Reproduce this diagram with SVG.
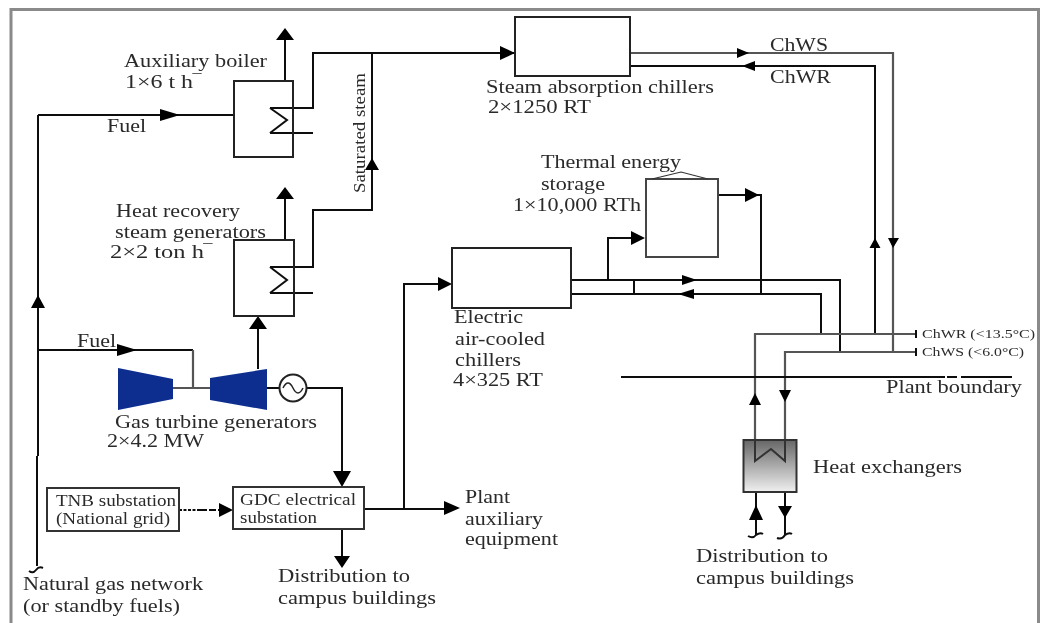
<svg xmlns="http://www.w3.org/2000/svg" width="1041" height="623" viewBox="0 0 1041 623">
<defs>
<style>
text{font-family:"Liberation Serif","Times New Roman",serif;font-size:19px;fill:#2a2a2a}
.s{font-size:16px}
.t{font-size:12.500px}
.l{fill:none;stroke:#111;stroke-width:2}
.g{fill:none;stroke:#555;stroke-width:2.200}
.b{fill:#fff;stroke:#222;stroke-width:2}
.o{fill:none;stroke:#222;stroke-width:2}
.a{fill:#000;stroke:none}
.q{fill:#0b2f8f;stroke:none}
</style>
<linearGradient id="hx" x1="0" y1="0" x2="0" y2="1"><stop offset="0" stop-color="#666"/><stop offset="1" stop-color="#f0f0f0"/></linearGradient>
<filter id="blur" x="0" y="0" width="1041" height="623" filterUnits="userSpaceOnUse"><feGaussianBlur stdDeviation="0.45"/></filter>
</defs>
<rect width="1041" height="623" fill="#fff"/>
<g filter="url(#blur)">
<path id="frame" d="M11 623V9.500H1038.500V623" fill="none" stroke="#8a8a8a" stroke-width="3"/>
<g id="connectors">
<path class="l" d="M38 115H234M38 115V350M38 350V456M37 456V566"/>
<path class="l" d="M38 350H193"/><path class="g" d="M193 350V388M173 388H210"/>
<path class="l" d="M285 81V36M285 240V194M258 369V322"/>
<path class="l" d="M270 108H313V53H515M270 133H313M372 53V210H313V267H270M270 293H313M270 108L287 120L270 133M270 267L287 280L270 293"/>
<path class="l" d="M267 388H280M307 388H342V475M342 529V560M364 509H450M404 509V284H445"/>
<path class="l" stroke-dasharray="3 1.500" d="M179 510H200"/><path class="l" stroke-dasharray="7 2" d="M200 510H225"/>
<path class="g" d="M630 53H893V352"/>
<path class="l" d="M630 66H875V334"/>
<path class="l" d="M718 195H761V294M608 280V238H640"/>
<path class="l" d="M571 280H840V352M571 294H821V334M634 280V294"/>
<path class="g" d="M755 440V334H915M785 440V352H915"/>
<path class="l" d="M916 330V338M916 348V356"/>
<path class="l" d="M621 377H945M947 377H957M961 377H1012"/>
<path class="l" d="M756 492V535M785 492V535"/>
<path class="l" stroke-width="1.500" d="M29 571Q33 574 36 570Q39 566 43 568M748 536Q753 539 756 535Q760 532 763 534M777 538Q782 540 785 535Q789 532 792 534"/>
<path class="a" d="M285 28l9 12h-18zM285 187l9 12h-18zM258 316l9 13h-18zM38 295l7 13h-14zM372 158l7 12h-14zM875 238l5.500 10h-11zM755 393l6 12h-12z"/>
<path class="a" d="M180 115L160 109V121zM137 350L117 344V356zM515 53L500 46V60zM749 53L737 48V58zM742 66L755 61V71zM893 248L888 238H899zM785 402L779 390H791zM342 487L333 471H351zM342 568L334 556H350zM233 510L219 503V517zM460 508L444 501V515zM452 284L438 277V291zM645 238L631 231V245zM759 195L745 188V202zM697 280L682 275V285zM678 294L694 289V299zM756 505L749 520H763zM785 518L778 506H792z"/>
</g>
<g id="aux-boiler"><rect class="o" x="234" y="81" width="59" height="76"/></g>
<g id="hrsg"><rect class="o" x="234" y="240" width="60" height="76"/></g>
<g id="steam-chillers"><rect class="b" x="515" y="17" width="115" height="59"/></g>
<g id="tes"><rect class="b" x="646" y="179" width="72" height="78" style="stroke:#444"/><path d="M652 179L681 172L708 179" fill="none" stroke="#333" stroke-width="1.200"/></g>
<g id="electric-chillers"><rect class="b" x="452" y="248" width="119" height="60"/></g>
<g id="gas-turbine-1"><path class="q" d="M118 368L173 379V399L118 410z"/></g>
<g id="gas-turbine-2"><path class="q" d="M210 378L267 369V410L210 400z"/></g>
<g id="generator"><circle cx="293" cy="388" r="13.500" fill="#fff" stroke="#222" stroke-width="2"/><path d="M283 388Q288 378 293 388T303 388" fill="none" stroke="#222" stroke-width="1.500"/></g>
<g id="tnb"><rect x="47" y="488" width="132" height="43" fill="#fff" stroke="#333" stroke-width="2"/><text class="s" x="56" y="506" textLength="120" lengthAdjust="spacingAndGlyphs">TNB substation</text><text class="s" x="56" y="524" textLength="114" lengthAdjust="spacingAndGlyphs">(National grid)</text></g>
<g id="gdc"><rect x="233" y="487" width="131" height="42" fill="#fff" stroke="#333" stroke-width="2"/><text class="s" x="240" y="505" textLength="116" lengthAdjust="spacingAndGlyphs">GDC electrical</text><text class="s" x="240" y="523" textLength="77" lengthAdjust="spacingAndGlyphs">substation</text></g>
<g id="heat-exchanger"><rect x="743.500" y="440" width="53" height="52" fill="url(#hx)" stroke="#333" stroke-width="2"/><path d="M755 440V461L771 449L785 461V440" fill="none" stroke="#333" stroke-width="2"/></g>
<g id="labels">
<text x="124" y="67" textLength="143" lengthAdjust="spacingAndGlyphs">Auxiliary boiler</text>
<text x="125" y="88" textLength="76" lengthAdjust="spacingAndGlyphs">1×6 t h‾</text>
<text x="107" y="132" textLength="39" lengthAdjust="spacingAndGlyphs">Fuel</text>
<text transform="translate(365 193) rotate(-90)" class="s" textLength="120" lengthAdjust="spacingAndGlyphs">Saturated steam</text>
<text x="116" y="217" textLength="124" lengthAdjust="spacingAndGlyphs">Heat recovery</text>
<text x="115" y="238" textLength="151" lengthAdjust="spacingAndGlyphs">steam generators</text>
<text x="110" y="258" textLength="102" lengthAdjust="spacingAndGlyphs">2×2 ton h‾</text>
<text x="77" y="347" textLength="39" lengthAdjust="spacingAndGlyphs">Fuel</text>
<text x="115" y="428" textLength="202" lengthAdjust="spacingAndGlyphs">Gas turbine generators</text>
<text x="107" y="447" textLength="97" lengthAdjust="spacingAndGlyphs">2×4.2 MW</text>
<text x="486" y="93" textLength="228" lengthAdjust="spacingAndGlyphs">Steam absorption chillers</text>
<text x="488" y="113" textLength="103" lengthAdjust="spacingAndGlyphs">2×1250 RT</text>
<text x="770" y="51" textLength="58" lengthAdjust="spacingAndGlyphs">ChWS</text>
<text x="770" y="83" textLength="61" lengthAdjust="spacingAndGlyphs">ChWR</text>
<text x="541" y="168" textLength="140" lengthAdjust="spacingAndGlyphs">Thermal energy</text>
<text x="541" y="190" textLength="64" lengthAdjust="spacingAndGlyphs">storage</text>
<text x="513" y="211" textLength="128" lengthAdjust="spacingAndGlyphs">1×10,000 RTh</text>
<text x="454" y="323" textLength="69" lengthAdjust="spacingAndGlyphs">Electric</text>
<text x="455" y="345" textLength="90" lengthAdjust="spacingAndGlyphs">air-cooled</text>
<text x="455" y="366" textLength="66" lengthAdjust="spacingAndGlyphs">chillers</text>
<text x="453" y="386" textLength="90" lengthAdjust="spacingAndGlyphs">4×325 RT</text>
<text x="465" y="503" textLength="45" lengthAdjust="spacingAndGlyphs">Plant</text>
<text x="465" y="525" textLength="78" lengthAdjust="spacingAndGlyphs">auxiliary</text>
<text x="465" y="545" textLength="93" lengthAdjust="spacingAndGlyphs">equipment</text>
<text x="278" y="582" textLength="132" lengthAdjust="spacingAndGlyphs">Distribution to</text>
<text x="278" y="604" textLength="158" lengthAdjust="spacingAndGlyphs">campus buildings</text>
<text x="23" y="590" textLength="180" lengthAdjust="spacingAndGlyphs">Natural gas network</text>
<text x="23" y="612" textLength="157" lengthAdjust="spacingAndGlyphs">(or standby fuels)</text>
<text class="t" x="922" y="338" textLength="113" lengthAdjust="spacingAndGlyphs">ChWR (&lt;13.5°C)</text>
<text class="t" x="922" y="356" textLength="102" lengthAdjust="spacingAndGlyphs">ChWS (&lt;6.0°C)</text>
<text x="886" y="393" textLength="136" lengthAdjust="spacingAndGlyphs">Plant boundary</text>
<text x="813" y="473" textLength="149" lengthAdjust="spacingAndGlyphs">Heat exchangers</text>
<text x="696" y="562" textLength="132" lengthAdjust="spacingAndGlyphs">Distribution to</text>
<text x="696" y="584" textLength="158" lengthAdjust="spacingAndGlyphs">campus buildings</text>
</g>
</g>
</svg>
